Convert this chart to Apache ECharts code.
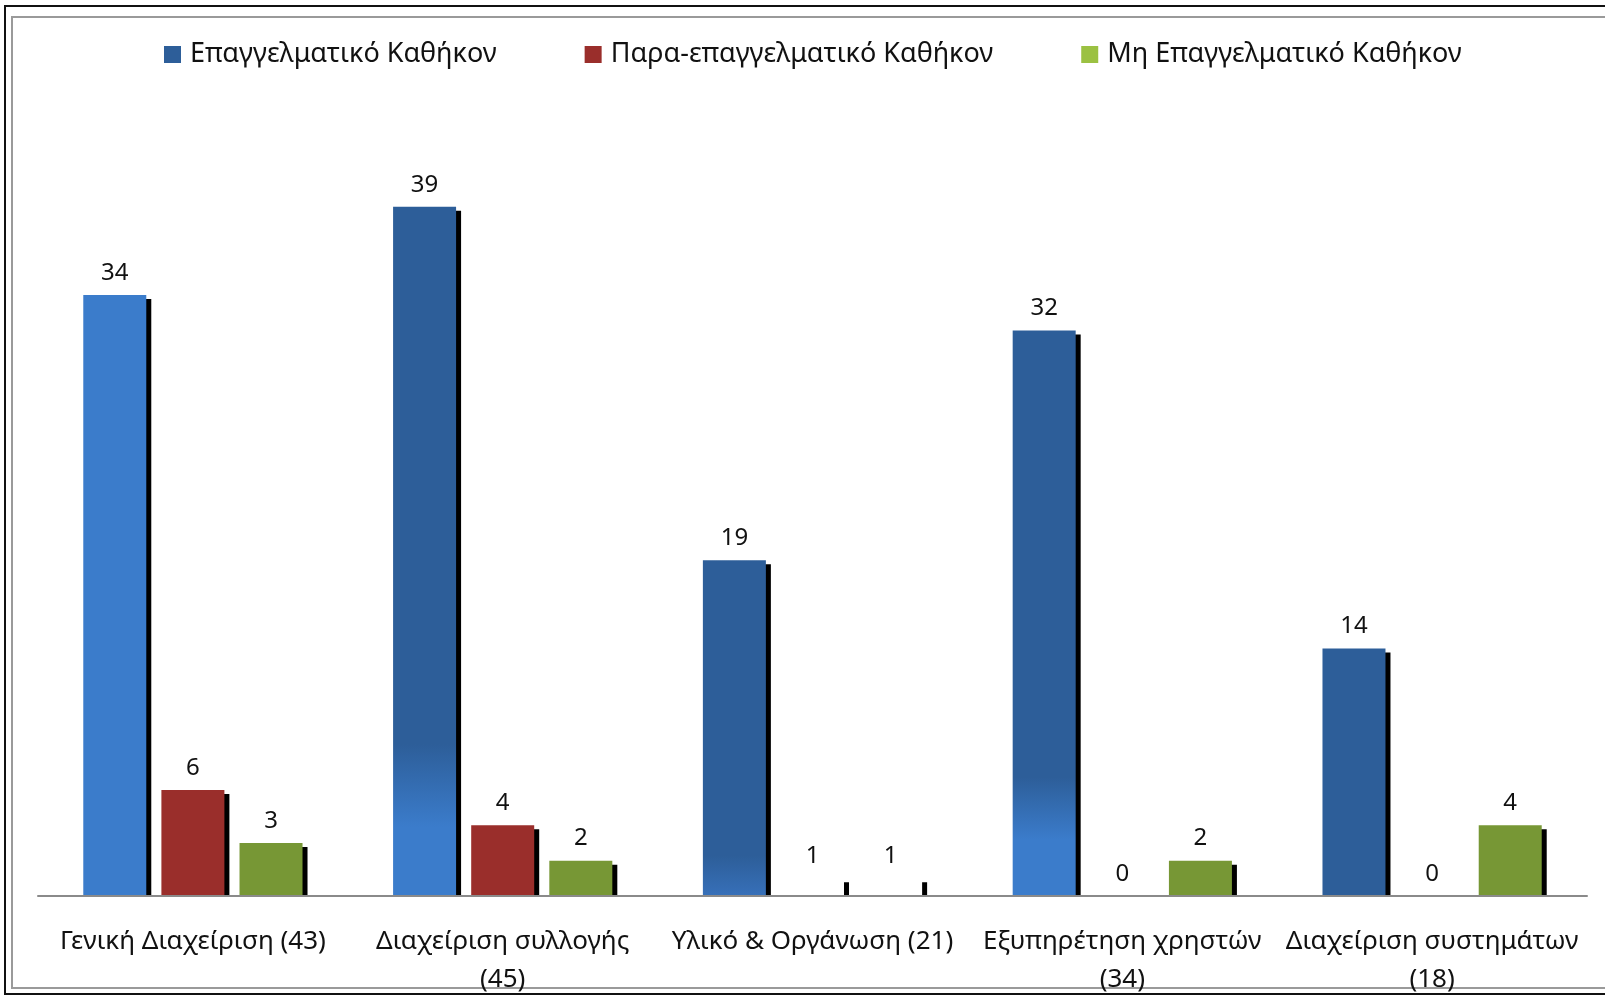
<!DOCTYPE html>
<html>
<head>
<meta charset="utf-8">
<script src="https://cdn.jsdelivr.net/npm/echarts@6/dist/echarts.min.js"></script>
<style>
  html, body { margin: 0; padding: 0; background: #fff; }
  #chart { width: 1605px; height: 996px; }
</style>
</head>
<body>
<div id="chart"></div>
<script>
// Categories (units with their totals)
const categories = [
  'Γενική Διαχείριση (43)',
  'Διαχείριση συλλογής\n(45)',
  'Υλικό & Οργάνωση (21)',
  'Εξυπηρέτηση χρηστών\n(34)',
  'Διαχείριση συστημάτων\n(18)'
];
const seriesNames = ['Επαγγελματικό Καθήκον', 'Παρα-επαγγελματικό Καθήκον', 'Μη Επαγγελματικό Καθήκον'];
const professional = [34, 39, 19, 32, 14];
const paraProfessional = [6, 4, 1, 0, 0];
const nonProfessional = [3, 2, 1, 2, 4];

const BLUE_DARK = '#2D5E99';
const BLUE_LIGHT = '#3B7CCB';
const RED = '#9A2E2B';
const GREEN_BAR = '#779735';
const GREEN_KEY = '#9BC142';

// Blue bar fills: each column fades from dark to light blue near its base
const blueFills = [
  BLUE_LIGHT,
  grad([[0, BLUE_DARK], [0.78, BLUE_DARK], [0.9, BLUE_LIGHT], [1, BLUE_LIGHT]]),
  grad([[0, BLUE_DARK], [0.88, BLUE_DARK], [1, '#3770B9']]),
  grad([[0, BLUE_DARK], [0.79, BLUE_DARK], [0.9, BLUE_LIGHT], [1, BLUE_LIGHT]]),
  BLUE_DARK
];

function grad(stops) {
  return {
    type: 'linear', x: 0, y: 0, x2: 0, y2: 1,
    colorStops: stops.map(s => ({ offset: s[0], color: s[1] }))
  };
}

const FONT = '"Noto Sans", "DejaVu Sans", sans-serif';
const shadow = { shadowColor: '#000', shadowBlur: 0, shadowOffsetX: 5, shadowOffsetY: 4 };

// Single-unit columns in the third group are drawn blank; only their shadow shows
function barData(values, fill, blankOnes) {
  return values.map((v, i) => ({
    value: v,
    itemStyle: Object.assign({ color: (blankOnes && v === 1) ? '#ffffff' : (typeof fill === 'function' ? fill(i) : fill) }, shadow)
  }));
}

const labelStyle = {
  show: true, position: 'top', distance: 10,
  color: '#111', fontSize: 24, fontFamily: FONT
};

const chart = echarts.init(document.getElementById('chart'), null, { renderer: 'canvas' });

chart.setOption({
  animation: false,
  backgroundColor: '#fff',
  textStyle: { fontFamily: FONT },
  legend: {
    left: 159, top: 36,
    itemWidth: 17, itemHeight: 17, itemGap: 88,
    icon: 'rect',
    textStyle: { fontSize: 27, color: '#111', fontFamily: FONT, padding: [0, 0, 0, 4] },
    data: seriesNames
  },
  grid: { left: 38, right: 18, top: 189, bottom: 100, containLabel: false, outerBoundsMode: 'none' },
  xAxis: {
    type: 'category',
    data: categories,
    z: 200,
    axisLine: { show: true, lineStyle: { color: '#8a8a8a', width: 2 } },
    axisTick: { show: false },
    axisLabel: {
      interval: 0, margin: 27, fontSize: 26, lineHeight: 38,
      color: '#111', fontFamily: FONT
    }
  },
  yAxis: {
    type: 'value', min: 0, max: 40, show: false,
    splitLine: { show: false }
  },
  series: [
    {
      name: seriesNames[0], type: 'bar', barWidth: 63, barGap: '24%',
      itemStyle: { color: BLUE_DARK },
      label: labelStyle,
      data: barData(professional, i => blueFills[i], false)
    },
    {
      name: seriesNames[1], type: 'bar', barWidth: 63, barGap: '24%',
      itemStyle: { color: RED },
      label: labelStyle,
      data: barData(paraProfessional, RED, true)
    },
    {
      name: seriesNames[2], type: 'bar', barWidth: 63, barGap: '24%',
      itemStyle: { color: GREEN_KEY },
      label: labelStyle,
      data: barData(nonProfessional, GREEN_BAR, true)
    }
  ],
  graphic: [
    // double frame around the chart area
    { type: 'rect', z: 0, silent: true, shape: { x: 5, y: 6, width: 1640, height: 988 },
      style: { fill: 'none', stroke: '#111', lineWidth: 2 } },
    { type: 'rect', z: 0, silent: true, shape: { x: 12, y: 17, width: 1640, height: 971 },
      style: { fill: 'none', stroke: '#9a9a9a', lineWidth: 2 } },
    // trims the bar shadows at the baseline
    { type: 'rect', z: 100, silent: true, shape: { x: 30, y: 897, width: 1570, height: 6 },
      style: { fill: '#fff' } }
  ]
});
</script>
</body>
</html>
